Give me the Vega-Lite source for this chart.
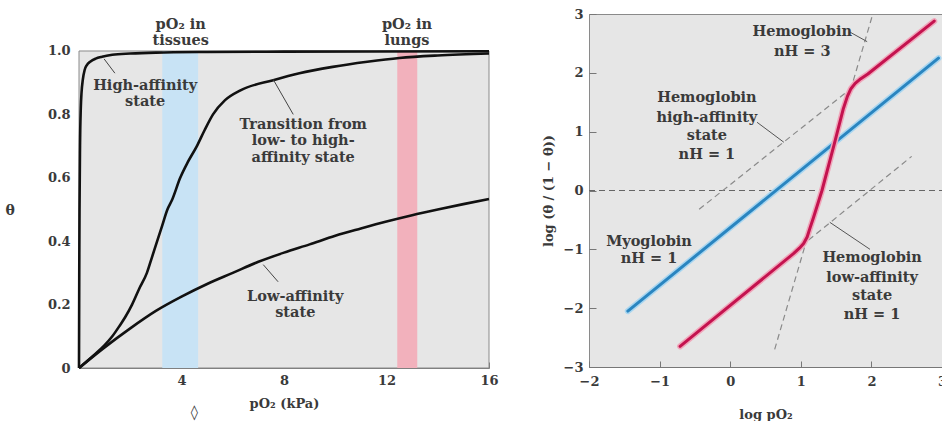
{
  "$schema": "https://vega.github.io/schema/vega-lite/v6.json",
  "background": "white",
  "padding": {"left": 5, "top": 7, "right": 0, "bottom": 0},
  "spacing": 42,
  "config": {
    "font": "DejaVu Serif",
    "view": {"fill": "#e6e6e6", "stroke": "#8a8a8a", "strokeWidth": 1},
    "axis": {"grid": false, "zindex": 1, "labelFlush": false, "labelFont": "DejaVu Serif", "titleFont": "DejaVu Serif", "titleFontWeight": "bold", "labelFontWeight": "bold", "labelFontSize": 13, "titleFontSize": 13, "labelColor": "#3a3a3a", "titleColor": "#3a3a3a", "domainColor": "#777", "tickColor": "#777", "tickWidth": 1}
  },
  "datasets": {
    "panel": [{"x0": 0, "x1": 16, "y0": 0, "y1": 1}],
    "bands": [{"x0": 3.25, "x1": 4.65, "band": "tissues"}, {"x0": 12.42, "x1": 13.2, "band": "lungs"}],
    "left": [
      {"curve": "high", "x": 0, "y": 0}, {"curve": "high", "x": 0.01, "y": 0.3}, {"curve": "high", "x": 0.02, "y": 0.5}, {"curve": "high", "x": 0.04, "y": 0.7}, {"curve": "high", "x": 0.07, "y": 0.82}, {"curve": "high", "x": 0.1, "y": 0.87}, {"curve": "high", "x": 0.15, "y": 0.91}, {"curve": "high", "x": 0.22, "y": 0.94}, {"curve": "high", "x": 0.3, "y": 0.955}, {"curve": "high", "x": 0.45, "y": 0.967}, {"curve": "high", "x": 0.65, "y": 0.976}, {"curve": "high", "x": 0.9, "y": 0.982}, {"curve": "high", "x": 1.3, "y": 0.988}, {"curve": "high", "x": 2, "y": 0.992}, {"curve": "high", "x": 3, "y": 0.995}, {"curve": "high", "x": 5, "y": 0.997}, {"curve": "high", "x": 8, "y": 0.998}, {"curve": "high", "x": 16, "y": 0.999},
      {"curve": "trans", "x": 0, "y": 0}, {"curve": "trans", "x": 0.5, "y": 0.035}, {"curve": "trans", "x": 1, "y": 0.072}, {"curve": "trans", "x": 1.3, "y": 0.1}, {"curve": "trans", "x": 1.6, "y": 0.135}, {"curve": "trans", "x": 1.8, "y": 0.16}, {"curve": "trans", "x": 2.07, "y": 0.2}, {"curve": "trans", "x": 2.35, "y": 0.25}, {"curve": "trans", "x": 2.65, "y": 0.3}, {"curve": "trans", "x": 2.85, "y": 0.35}, {"curve": "trans", "x": 3.05, "y": 0.4}, {"curve": "trans", "x": 3.25, "y": 0.45}, {"curve": "trans", "x": 3.45, "y": 0.5}, {"curve": "trans", "x": 3.63, "y": 0.53}, {"curve": "trans", "x": 3.95, "y": 0.6}, {"curve": "trans", "x": 4.25, "y": 0.65}, {"curve": "trans", "x": 4.6, "y": 0.7}, {"curve": "trans", "x": 4.9, "y": 0.75}, {"curve": "trans", "x": 5.23, "y": 0.8}, {"curve": "trans", "x": 5.7, "y": 0.845}, {"curve": "trans", "x": 6.3, "y": 0.876}, {"curve": "trans", "x": 7.58, "y": 0.908}, {"curve": "trans", "x": 8.6, "y": 0.93}, {"curve": "trans", "x": 9.9, "y": 0.95}, {"curve": "trans", "x": 11.25, "y": 0.966}, {"curve": "trans", "x": 12.5, "y": 0.978}, {"curve": "trans", "x": 14, "y": 0.986}, {"curve": "trans", "x": 16, "y": 0.992},
      {"curve": "low", "x": 0, "y": 0}, {"curve": "low", "x": 1, "y": 0.065}, {"curve": "low", "x": 2, "y": 0.125}, {"curve": "low", "x": 3, "y": 0.18}, {"curve": "low", "x": 4, "y": 0.225}, {"curve": "low", "x": 5, "y": 0.265}, {"curve": "low", "x": 6, "y": 0.3}, {"curve": "low", "x": 7, "y": 0.335}, {"curve": "low", "x": 8, "y": 0.364}, {"curve": "low", "x": 9, "y": 0.39}, {"curve": "low", "x": 10, "y": 0.417}, {"curve": "low", "x": 11, "y": 0.44}, {"curve": "low", "x": 12, "y": 0.462}, {"curve": "low", "x": 13, "y": 0.482}, {"curve": "low", "x": 14, "y": 0.5}, {"curve": "low", "x": 15, "y": 0.517}, {"curve": "low", "x": 16, "y": 0.533}
    ],
    "leftLead": [
      {"x": 1.4, "y": 0.93, "x2": 0.98, "y2": 0.975},
      {"x": 7.58, "y": 0.91, "x2": 8.36, "y2": 0.8},
      {"x": 7.19, "y": 0.326, "x2": 7.77, "y2": 0.272}
    ],
    "leftText": [
      {"x": 3.97, "y": 1.082, "t": "pO₂ in"}, {"x": 3.97, "y": 1.033, "t": "tissues"},
      {"x": 12.8, "y": 1.082, "t": "pO₂ in"}, {"x": 12.8, "y": 1.033, "t": "lungs"},
      {"x": 2.58, "y": 0.889, "t": "High-affinity"}, {"x": 2.58, "y": 0.839, "t": "state"},
      {"x": 8.75, "y": 0.766, "t": "Transition from"}, {"x": 8.75, "y": 0.715, "t": "low- to high-"}, {"x": 8.75, "y": 0.664, "t": "affinity state"},
      {"x": 8.44, "y": 0.223, "t": "Low-affinity"}, {"x": 8.44, "y": 0.172, "t": "state"},
      {"x": 4.5, "y": -0.143, "t": "◊"}
    ],
    "zero": [{"x": -2, "y": 0}, {"x": 3, "y": 0}],
    "dash": [
      {"id": "hi", "x": -0.44, "y": -0.32}, {"id": "hi", "x": 1.75, "y": 1.77},
      {"id": "lo", "x": 1.0, "y": -0.95}, {"id": "lo", "x": 2.57, "y": 0.58},
      {"id": "n3", "x": 0.63, "y": -2.7}, {"id": "n3", "x": 2.02, "y": 3.0}
    ],
    "myo": [{"x": -1.45, "y": -2.05}, {"x": 2.95, "y": 2.25}],
    "hb": [{"x": -0.71, "y": -2.65}, {"x": 0.9, "y": -1.07}, {"x": 0.98, "y": -0.98}, {"x": 1.04, "y": -0.9}, {"x": 1.09, "y": -0.79}, {"x": 1.13, "y": -0.64}, {"x": 1.18, "y": -0.46}, {"x": 1.3, "y": 0.0}, {"x": 1.47, "y": 0.77}, {"x": 1.6, "y": 1.38}, {"x": 1.66, "y": 1.6}, {"x": 1.71, "y": 1.73}, {"x": 1.77, "y": 1.82}, {"x": 1.85, "y": 1.9}, {"x": 1.95, "y": 1.98}, {"x": 2.89, "y": 2.88}],
    "rightLead": [
      {"x": 1.7, "y": 2.69, "x2": 1.94, "y2": 2.53},
      {"x": 0.38, "y": 1.16, "x2": 0.76, "y2": 0.82},
      {"x": 1.41, "y": -0.54, "x2": 1.98, "y2": -1.0}
    ],
    "rightText": [
      {"x": 1.02, "y": 2.69, "t": "Hemoglobin"}, {"x": 1.02, "y": 2.35, "t": "nH = 3"},
      {"x": -0.33, "y": 1.58, "t": "Hemoglobin"}, {"x": -0.33, "y": 1.24, "t": "high-affinity"}, {"x": -0.33, "y": 0.92, "t": "state"}, {"x": -0.33, "y": 0.61, "t": "nH = 1"},
      {"x": -1.15, "y": -0.87, "t": "Myoglobin"}, {"x": -1.15, "y": -1.17, "t": "nH = 1"},
      {"x": 2.01, "y": -1.14, "t": "Hemoglobin"}, {"x": 2.01, "y": -1.48, "t": "low-affinity"}, {"x": 2.01, "y": -1.8, "t": "state"}, {"x": 2.01, "y": -2.11, "t": "nH = 1"}
    ]
  },
  "hconcat": [
    {
      "width": 410,
      "height": 354,
      "view": {"fill": null, "stroke": null},
      "encoding": {
        "x": {"type": "quantitative", "scale": {"domain": [0, 16], "nice": false, "zero": false}, "axis": {"values": [4, 8, 12, 16], "tickSize": -6, "labelPadding": 12, "title": "pO₂ (kPa)", "titlePadding": 10, "domain": true}},
        "y": {"type": "quantitative", "scale": {"domain": [0, 1.1167], "nice": false}, "axis": {"values": [0, 0.2, 0.4, 0.6, 0.8, 1], "labelExpr": "datum.value == 0 ? '0' : format(datum.value, '.1f')", "tickSize": -8, "labelPadding": 17, "domain": false, "title": "θ", "titleAngle": 0, "titleAlign": "right", "titleBaseline": "middle", "titlePadding": 33, "titleY": 196, "titleFontSize": 14}}
      },
      "layer": [
        {
          "data": {"name": "panel"},
          "mark": {"type": "rect", "fill": "#e6e6e6", "stroke": "#8a8a8a", "strokeWidth": 1},
          "encoding": {"x": {"field": "x0"}, "x2": {"field": "x1"}, "y": {"field": "y0"}, "y2": {"field": "y1"}}
        },
        {
          "data": {"name": "bands"},
          "mark": {"type": "rect"},
          "encoding": {
            "x": {"field": "x0"},
            "x2": {"field": "x1"},
            "y": {"datum": 0},
            "y2": {"datum": 1},
            "color": {"field": "band", "type": "nominal", "scale": {"domain": ["tissues", "lungs"], "range": ["#c8e3f5", "#f2b1bc"]}, "legend": null}
          }
        },
        {
          "data": {"name": "left"},
          "mark": {"type": "line", "color": "#111", "strokeWidth": 2.6, "clip": false, "interpolate": "monotone"},
          "encoding": {"x": {"field": "x"}, "y": {"field": "y"}, "detail": {"field": "curve"}}
        },
        {
          "data": {"name": "leftLead"},
          "mark": {"type": "rule", "color": "#444", "strokeWidth": 1},
          "encoding": {"x": {"field": "x"}, "y": {"field": "y"}, "x2": {"field": "x2"}, "y2": {"field": "y2"}}
        },
        {
          "data": {"name": "leftText"},
          "mark": {"type": "text", "font": "DejaVu Serif", "fontSize": 14.5, "fontWeight": "bold", "color": "#3a3a3a", "align": "center", "baseline": "middle"},
          "encoding": {"x": {"field": "x"}, "y": {"field": "y"}, "text": {"field": "t"}}
        }
      ]
    },
    {
      "width": 353,
      "height": 353,
      "encoding": {
        "x": {"type": "quantitative", "scale": {"domain": [-2, 3], "nice": false, "zero": false}, "axis": {"values": [-2, -1, 0, 1, 2, 3], "tickSize": -6, "labelPadding": 14, "title": "log pO₂", "titlePadding": 20}},
        "y": {"type": "quantitative", "scale": {"domain": [-3, 3], "nice": false, "zero": false}, "axis": {"values": [-3, -2, -1, 0, 1, 2, 3], "tickSize": -7, "labelPadding": 13, "domain": false, "title": "log (θ / (1 − θ))", "titlePadding": 8}}
      },
      "layer": [
        {
          "data": {"name": "zero"},
          "mark": {"type": "line", "color": "#666", "strokeWidth": 1, "strokeDash": [6, 4]},
          "encoding": {"x": {"field": "x"}, "y": {"field": "y"}}
        },
        {
          "data": {"name": "dash"},
          "mark": {"type": "line", "color": "#8a8a8a", "strokeWidth": 1.2, "strokeDash": [6, 4]},
          "encoding": {"x": {"field": "x"}, "y": {"field": "y"}, "detail": {"field": "id"}}
        },
        {
          "data": {"name": "myo"},
          "mark": {"type": "line", "color": "#a9d6f0", "strokeWidth": 6, "strokeCap": "round"},
          "encoding": {"x": {"field": "x"}, "y": {"field": "y"}}
        },
        {
          "data": {"name": "myo"},
          "mark": {"type": "line", "color": "#2a85c0", "strokeWidth": 3, "strokeCap": "round"},
          "encoding": {"x": {"field": "x"}, "y": {"field": "y"}}
        },
        {
          "data": {"name": "hb"},
          "mark": {"type": "line", "color": "#f0a6ba", "strokeWidth": 6, "strokeCap": "round", "strokeJoin": "round"},
          "encoding": {"x": {"field": "x"}, "y": {"field": "y"}}
        },
        {
          "data": {"name": "hb"},
          "mark": {"type": "line", "color": "#c4134f", "strokeWidth": 3, "strokeCap": "round", "strokeJoin": "round"},
          "encoding": {"x": {"field": "x"}, "y": {"field": "y"}}
        },
        {
          "data": {"name": "rightLead"},
          "mark": {"type": "rule", "color": "#555", "strokeWidth": 1},
          "encoding": {"x": {"field": "x"}, "y": {"field": "y"}, "x2": {"field": "x2"}, "y2": {"field": "y2"}}
        },
        {
          "data": {"name": "rightText"},
          "mark": {"type": "text", "font": "DejaVu Serif", "fontSize": 14.5, "fontWeight": "bold", "color": "#3a3a3a", "align": "center", "baseline": "middle"},
          "encoding": {"x": {"field": "x"}, "y": {"field": "y"}, "text": {"field": "t"}}
        }
      ]
    }
  ]
}
